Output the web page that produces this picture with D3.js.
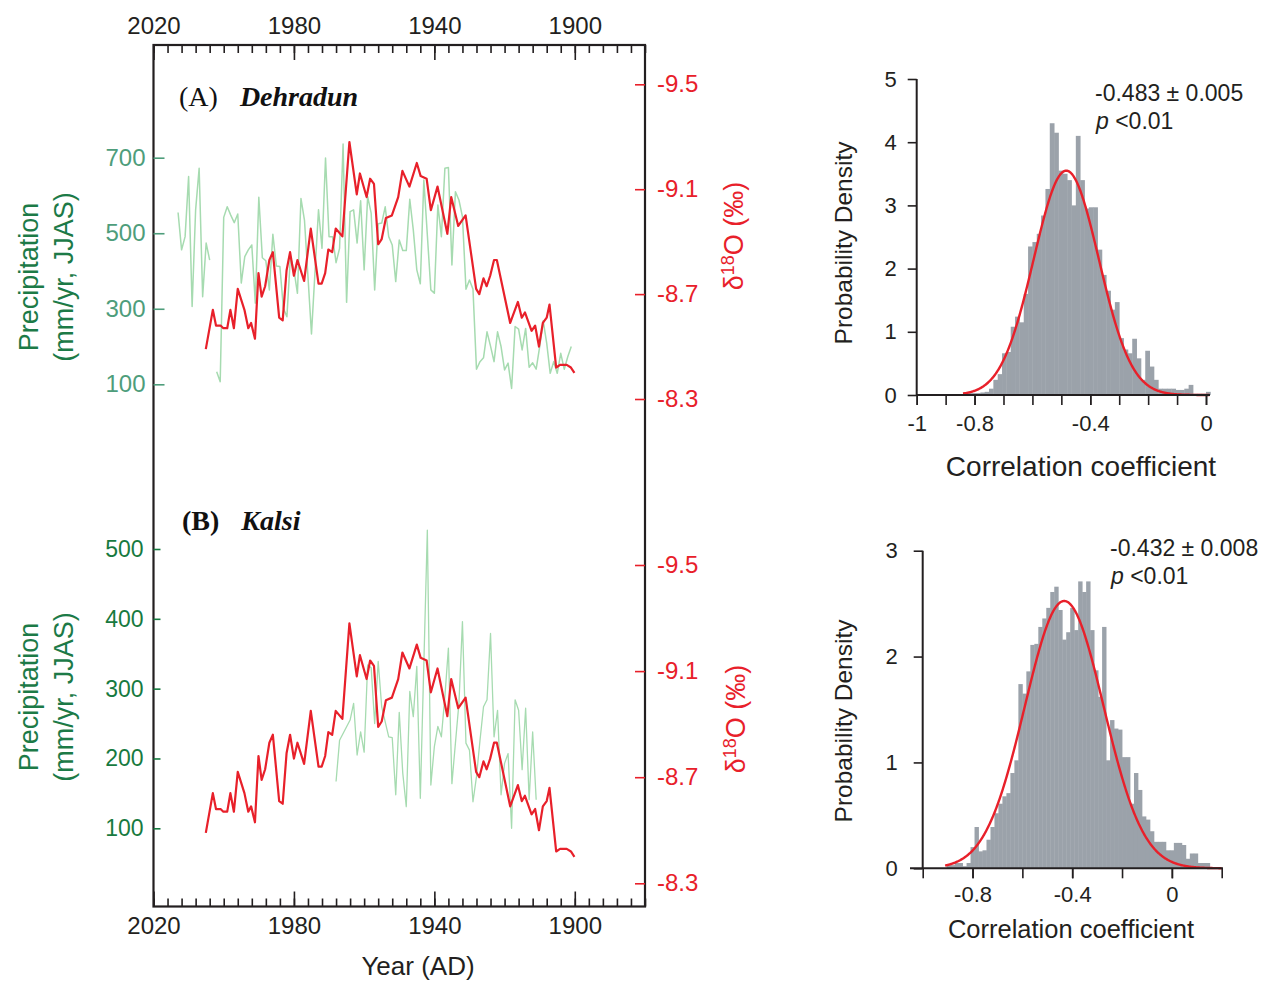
<!DOCTYPE html>
<html><head><meta charset="utf-8">
<script src="https://cdn.jsdelivr.net/npm/d3@7"></script>
<style>
body{margin:0;background:#fff}
svg{display:block}
text{font-family:"Liberation Sans",Arial,sans-serif}
</style>
</head><body>
<svg id="c" width="1262" height="981"></svg>
<script>
// ---------------- DATA ----------------
const yearTickLabels = [2020, 1980, 1940, 1900];
const precipTicksA = [100, 300, 500, 700];
const precipTicksB = [100, 200, 300, 400, 500];
const d18OTicks = [-9.5, -9.1, -8.7, -8.3];

// speleothem d18O record (same record in A and B)
const d18OYears = [2005.1,2003.1,2002.2,2000.9,2000.1,1999.0,1998.1,1997.1,1996.0,1994.1,1993.0,1992.2,1991.1,1990.1,1989.2,1988.2,1987.0,1986.0,1984.2,1983.2,1982.1,1981.1,1980.0,1979.0,1977.1,1975.2,1973.0,1972.1,1971.1,1970.2,1969.1,1968.1,1966.2,1964.2,1962.1,1961.2,1959.3,1958.3,1957.2,1956.0,1955.0,1953.8,1952.1,1950.3,1949.1,1947.1,1945.0,1943.9,1942.2,1941.0,1939.1,1936.3,1935.2,1933.2,1931.1,1928.1,1927.2,1926.0,1925.1,1924.1,1923.0,1922.2,1918.4,1916.2,1915.1,1914.2,1912.3,1911.3,1910.2,1909.1,1908.0,1907.2,1905.3,1904.2,1902.3,1901.1,1900.1];
const d18OValues = [-8.49,-8.64,-8.58,-8.58,-8.57,-8.57,-8.64,-8.57,-8.72,-8.64,-8.57,-8.59,-8.53,-8.78,-8.69,-8.73,-8.83,-8.86,-8.61,-8.60,-8.79,-8.86,-8.77,-8.83,-8.75,-8.95,-8.74,-8.74,-8.78,-8.87,-8.86,-8.95,-8.92,-9.28,-9.08,-9.16,-9.07,-9.14,-9.12,-8.89,-8.91,-8.99,-9.00,-9.07,-9.17,-9.11,-9.20,-9.15,-9.14,-9.02,-9.11,-8.93,-9.07,-8.96,-9.00,-8.72,-8.70,-8.76,-8.73,-8.77,-8.83,-8.83,-8.59,-8.67,-8.61,-8.63,-8.56,-8.58,-8.50,-8.59,-8.61,-8.66,-8.42,-8.43,-8.43,-8.42,-8.40];

// Dehradun JJAS precipitation (null = missing year)
const precipYearsA = [2013,2012,2011,2010,2009,2008,2007,2006,2005,2004,2003,2002,2001,2000,1999,1998,1997,1996,1995,1994,1993,1992,1991,1990,1989,1988,1987,1986,1985,1984,1983,1982,1981,1980,1979,1978,1977,1976,1975,1973,1972,1971,1970,1969,1968,1967,1966,1965,1964,1963,1962,1961,1960,1959,1958,1957,1956,1955,1954,1953,1952,1951,1950,1949,1948,1947,1946,1945,1944,1943,1941,1940,1939,1938,1937,1936,1935,1934,1933,1932,1931,1930,1929,1928,1927,1926,1925,1924,1923,1922,1921,1920,1919,1918,1917,1916,1915,1914,1913,1912,1911,1910,1909,1908,1907,1906,1905,1904,1903,1902,1901];
const precipValuesA = [555,456,491,650,306,562,672,332,474,429,null,133,107,542,570,548,528,551,368,438,456,469,315,595,435,427,350,497,413,412,301,279,438,403,341,592,535,385,233,562,460,699,491,491,422,460,736,317,557,562,474,586,403,597,553,350,525,527,570,491,469,372,482,454,454,590,509,403,366,641,350,341,575,491,672,674,416,610,588,544,352,376,352,140,160,170,239,201,160,239,200,138,156,89,253,246,191,248,145,157,140,200,268,209,129,160,129,182,140,173,200];

// Kalsi JJAS precipitation
const precipYearsB = [1968,1967,1964,1963,1962,1961,1960,1959,1958,1957,1956,1955,1953,1952,1951,1950,1949,1948,1947,1946,1945,1944,1942,1941,1940,1939,1938,1937,1936,1935,1934,1933,1932,1931,1930,1929,1928,1927,1926,1925,1924,1923,1922,1921,1920,1919,1918,1917,1916,1915,1914,1913,1912,1911];
const precipValuesB = [167,226,255,279,205,238,209,334,330,250,339,274,231,230,148,266,179,131,296,260,332,143,527,162,217,246,231,289,358,164,222,279,396,222,212,138,174,226,274,284,379,231,269,148,193,207,100,284,269,184,272,141,238,141];

// Histogram (top, Dehradun): bin left edges & probability density
const histTopBinWidth = 0.015;
const histTopEdges = [-0.840,-0.825,-0.810,-0.795,-0.780,-0.765,-0.750,-0.735,-0.720,-0.705,-0.690,-0.675,-0.660,-0.645,-0.630,-0.615,-0.600,-0.585,-0.570,-0.555,-0.540,-0.525,-0.510,-0.495,-0.480,-0.465,-0.450,-0.435,-0.420,-0.405,-0.390,-0.375,-0.360,-0.345,-0.330,-0.315,-0.300,-0.285,-0.270,-0.255,-0.240,-0.225,-0.210,-0.195,-0.180,-0.165,-0.150,-0.135,-0.120,-0.105,-0.090,-0.075,-0.060,-0.045,-0.030,-0.015,0.000];
const histTopDensity = [0.04,0.03,0.03,0.03,0.04,0.05,0.10,0.24,0.33,0.66,0.68,1.08,1.24,1.15,1.60,2.35,2.42,2.55,2.84,3.26,4.30,4.15,3.55,3.50,3.40,3.00,4.10,3.40,2.95,2.97,2.97,2.30,1.90,1.65,1.35,1.47,0.90,0.72,0.66,0.89,0.58,0.24,0.70,0.45,0.24,0.10,0.10,0.10,0.10,0.08,0.08,0.10,0.16,0.02,0.02,0.02,0.05];
const fitTop = {mean: -0.483, sd: 0.1124, from: -0.84, to: 0.012};
const xTicksTop = [-1,-0.9,-0.8,-0.7,-0.6,-0.5,-0.4,-0.3,-0.2,-0.1,0];
const xLabelsTop = [-1,-0.8,-0.4,0];
const yTicksTop = [0,1,2,3,4,5];

// Histogram (bottom, Kalsi)
const histBotBinWidth = 0.016;
const histBotEdges = [-0.904,-0.888,-0.872,-0.856,-0.840,-0.824,-0.808,-0.792,-0.776,-0.760,-0.744,-0.728,-0.712,-0.696,-0.680,-0.664,-0.648,-0.632,-0.616,-0.600,-0.584,-0.568,-0.552,-0.536,-0.520,-0.504,-0.488,-0.472,-0.456,-0.440,-0.424,-0.408,-0.392,-0.376,-0.360,-0.344,-0.328,-0.312,-0.296,-0.280,-0.264,-0.248,-0.232,-0.216,-0.200,-0.184,-0.168,-0.152,-0.136,-0.120,-0.104,-0.088,-0.072,-0.056,-0.040,-0.024,-0.008,0.008,0.024,0.040,0.056,0.072,0.088,0.104,0.120,0.136];
const histBotDensity = [0.03,0.03,0.05,0.05,0.02,0.05,0.20,0.39,0.16,0.17,0.27,0.39,0.52,0.61,0.68,0.71,0.90,1.02,1.74,1.65,1.86,2.11,2.12,2.28,2.36,2.46,2.61,2.66,2.44,2.16,2.23,2.46,2.25,2.71,2.61,2.71,2.25,1.87,1.62,2.28,1.02,1.40,1.32,1.31,1.05,1.05,0.61,0.90,0.74,0.49,0.46,0.35,0.25,0.25,0.25,0.17,0.17,0.24,0.24,0.22,0.09,0.14,0.14,0.05,0.05,0.05];
const fitBot = {mean: -0.432, sd: 0.158, from: -0.91, to: 0.2};
const xTicksBot = [-1,-0.8,-0.6,-0.4,-0.2,0,0.2];
const xLabelsBot = [-0.8,-0.4,0];
const yTicksBot = [0,1,2,3];

// ---------------- STYLE ----------------
const RED = "#e8202a";
const GREEN_LINE = "#a6dbb0";
const GREEN_LBL_A = "#4e9d7b";
const GREEN_LBL_B = "#177a40";
const GREEN_TITLE = "#1c7a47";
const AXIS = "#231f20";
const BAR = "#9ba2aa";

const svg = d3.select("#c");

// ---------------- LEFT PANEL ----------------
const L = 153.5, R = 645, T = 45, B = 906.5;
const x = d3.scaleLinear().domain([2020, 1880]).range([L, R]);

const yPA = d3.scaleLinear().domain([100, 700]).range([384.3, 157.7]);
const yDA = d3.scaleLinear().domain([-9.5, -8.3]).range([84.3, 399]);
const yPB = d3.scaleLinear().domain([100, 500]).range([828.3, 549]);
const yDB = d3.scaleLinear().domain([-9.5, -8.3]).range([565, 883.3]);

const minorYears = d3.range(2020, 1879, -4);

function styleAxis(g, color, fs) {
  g.select(".domain").remove();
  g.selectAll(".tick line").attr("stroke", color).attr("stroke-width", 1.6);
  g.selectAll(".tick text").attr("fill", color).style("font-size", fs + "px")
    .style("font-family", '"Liberation Sans",Arial,sans-serif');
}

// top axis
const gTop = svg.append("g").attr("transform", `translate(0,${T})`);
gTop.append("g").call(d3.axisTop(x).tickValues(minorYears).tickSize(-8).tickFormat("")).call(g => styleAxis(g, AXIS, 22));
gTop.append("g").call(d3.axisTop(x).tickValues(yearTickLabels).tickSize(-15).tickPadding(11).tickFormat(d3.format("d")))
  .call(g => styleAxis(g, AXIS, 24));
// bottom axis
const gBot = svg.append("g").attr("transform", `translate(0,${B})`);
gBot.append("g").call(d3.axisBottom(x).tickValues(minorYears).tickSize(-8).tickFormat("")).call(g => styleAxis(g, AXIS, 22));
gBot.append("g").call(d3.axisBottom(x).tickValues(yearTickLabels).tickSize(-15).tickPadding(10).tickFormat(d3.format("d")))
  .call(g => styleAxis(g, AXIS, 24));

// frame
svg.append("rect").attr("x", L).attr("y", T).attr("width", R - L).attr("height", B - T)
  .attr("fill", "none").attr("stroke", AXIS).attr("stroke-width", 2.2);

// left precip axes
svg.append("g").attr("transform", `translate(${L},0)`)
  .call(d3.axisLeft(yPA).tickValues(precipTicksA).tickSize(-11).tickPadding(8))
  .call(g => styleAxis(g, GREEN_LBL_A, 24));
svg.append("g").attr("transform", `translate(${L},0)`)
  .call(d3.axisLeft(yPB).tickValues(precipTicksB).tickSize(-7).tickPadding(10))
  .call(g => styleAxis(g, GREEN_LBL_B, 23));

// right d18O axes
[[yDA], [yDB]].forEach(([s]) => {
  svg.append("g").attr("transform", `translate(${R},0)`)
    .call(d3.axisRight(s).tickValues(d18OTicks).tickSize(-10).tickPadding(12).tickFormat(d => String(d)))
    .call(g => styleAxis(g, RED, 24));
});

// axis titles
function precipTitle(cy) {
  const g = svg.append("g").attr("fill", GREEN_TITLE).style("font-size", "27px");
  g.append("text").attr("transform", `translate(38,${cy}) rotate(-90)`).attr("text-anchor", "middle").text("Precipitation");
  g.append("text").attr("transform", `translate(73,${cy}) rotate(-90)`).attr("text-anchor", "middle").text("(mm/yr, JJAS)");
}
precipTitle(277);
precipTitle(697);

function d18OTitle(cx, cy) {
  const t = svg.append("text").attr("transform", `translate(${cx},${cy}) rotate(-90)`)
    .attr("text-anchor", "middle").attr("fill", RED).style("font-size", "27px");
  t.append("tspan").text("δ");
  t.append("tspan").attr("dy", -9).style("font-size", "18px").text("18");
  t.append("tspan").attr("dy", 9).text("O (‰)");
}
d18OTitle(743, 236);
d18OTitle(745, 719);

// panel labels
function panelLabel(xp, yp, tag, name, boldTag) {
  const t = svg.append("text").attr("x", xp).attr("y", yp)
    .style("font-family", '"Liberation Serif","Times New Roman",serif').style("font-size", "28px").attr("fill", "#111");
  t.append("tspan").style("font-weight", boldTag ? "bold" : "normal").text(tag);
  t.append("tspan").attr("dx", 22).style("font-weight", "bold").style("font-style", "italic").text(name);
}
panelLabel(179, 106, "(A)", "Dehradun", false);
panelLabel(182, 530, "(B)", "Kalsi", true);

// "Year (AD)"
svg.append("text").attr("x", 418).attr("y", 975).attr("text-anchor", "middle")
  .style("font-size", "26px").attr("fill", AXIS).text("Year (AD)");

// lines
function drawLine(years, vals, ys, color, w) {
  const data = years.map((yr, i) => ({yr, v: vals[i]}));
  const line = d3.line().defined(d => d.v !== null).x(d => x(d.yr)).y(d => ys(d.v));
  svg.append("path").datum(data).attr("d", line).attr("fill", "none")
    .attr("stroke", color).attr("stroke-width", w).attr("stroke-linejoin", "round");
}
drawLine(precipYearsA, precipValuesA, yPA, GREEN_LINE, 1.5);
drawLine(d18OYears, d18OValues, yDA, RED, 2.2);
drawLine(precipYearsB, precipValuesB, yPB, GREEN_LINE, 1.3);
drawLine(d18OYears, d18OValues, yDB, RED, 2.2);

// ---------------- HISTOGRAMS ----------------
function normalPdf(v, m, s) { return Math.exp(-0.5 * ((v - m) / s) ** 2) / (s * Math.sqrt(2 * Math.PI)); }

function histogram(cfg) {
  const hx = d3.scaleLinear().domain(cfg.xDom).range(cfg.xRange);
  const hy = d3.scaleLinear().domain(cfg.yDom).range(cfg.yRange);
  const g = svg.append("g");
  g.selectAll("rect.bar").data(cfg.edges.map((e, i) => ({e, d: cfg.dens[i]}))).enter()
    .append("rect").attr("x", d => hx(d.e)).attr("width", d => hx(d.e + cfg.bw) - hx(d.e) + 0.4)
    .attr("y", d => hy(d.d)).attr("height", d => hy(0) - hy(d.d)).attr("fill", BAR);
  const pts = d3.range(cfg.fit.from, cfg.fit.to + 1e-9, 0.002).map(v => [v, normalPdf(v, cfg.fit.mean, cfg.fit.sd)]);
  g.append("path").datum(pts).attr("d", d3.line().x(d => hx(d[0])).y(d => hy(d[1])))
    .attr("fill", "none").attr("stroke", RED).attr("stroke-width", 2.4);
  g.append("line").attr("x1", cfg.xLine[0]).attr("x2", cfg.xLine[1]).attr("y1", hy(0)).attr("y2", hy(0))
    .attr("stroke", AXIS).attr("stroke-width", 2);
  g.append("line").attr("x1", hx(cfg.xDom[0])).attr("x2", hx(cfg.xDom[0])).attr("y1", hy(0)).attr("y2", hy(cfg.yDom[1]))
    .attr("stroke", AXIS).attr("stroke-width", 2);
  g.append("g").attr("transform", `translate(0,${hy(0)})`)
    .call(d3.axisBottom(hx).tickValues(cfg.xTicks).tickSize(10).tickFormat(""))
    .call(a => styleAxis(a, AXIS, 22));
  g.append("g").attr("transform", `translate(0,${hy(0)})`)
    .call(d3.axisBottom(hx).tickValues(cfg.xLabels).tickSize(10).tickPadding(cfg.xPad).tickFormat(d => String(d)))
    .call(a => styleAxis(a, AXIS, 22));
  g.append("g").attr("transform", `translate(${hx(cfg.xDom[0])},0)`)
    .call(d3.axisLeft(hy).tickValues(cfg.yTicks).tickSize(9).tickPadding(cfg.yPad).tickFormat(d3.format("d")))
    .call(a => styleAxis(a, AXIS, 22));
  g.append("text").attr("x", cfg.xTitle[0]).attr("y", cfg.xTitle[1]).attr("text-anchor", "middle")
    .style("font-size", cfg.xTitleFs + "px").attr("fill", AXIS).text("Correlation coefficient");
  g.append("text").attr("transform", `translate(${cfg.yTitle[0]},${cfg.yTitle[1]}) rotate(-90)`).attr("text-anchor", "middle")
    .style("font-size", "24.5px").attr("fill", AXIS).text("Probability Density");
  g.append("text").attr("x", cfg.ann[0]).attr("y", cfg.ann[1]).style("font-size", "23px").attr("fill", AXIS).text(cfg.annText);
  const p = g.append("text").attr("x", cfg.ann[0] + 1).attr("y", cfg.ann[1] + 28).style("font-size", "23px").attr("fill", AXIS);
  p.append("tspan").style("font-style", "italic").text("p");
  p.append("tspan").text(" <0.01");
}

histogram({
  xDom: [-1, 0], xRange: [916.7, 1206], yDom: [0, 5], yRange: [395, 79],
  edges: histTopEdges, dens: histTopDensity, bw: histTopBinWidth, fit: fitTop,
  xTicks: xTicksTop, xLabels: xLabelsTop, yTicks: yTicksTop, xPad: 10, yPad: 11, xLine: [916, 1210],
  xTitle: [1081, 476], xTitleFs: 28, yTitle: [852, 243], ann: [1095, 101], annText: "-0.483 ± 0.005"
});
histogram({
  xDom: [-1, 0.2], xRange: [922.7, 1221.7], yDom: [0, 3], yRange: [868.3, 550.7],
  edges: histBotEdges, dens: histBotDensity, bw: histBotBinWidth, fit: fitBot,
  xTicks: xTicksBot, xLabels: xLabelsBot, yTicks: yTicksBot, xPad: 8, yPad: 16, xLine: [910, 1223],
  xTitle: [1071, 938], xTitleFs: 25.5, yTitle: [852, 721], ann: [1110, 556], annText: "-0.432 ± 0.008"
});
</script>
</body></html>
